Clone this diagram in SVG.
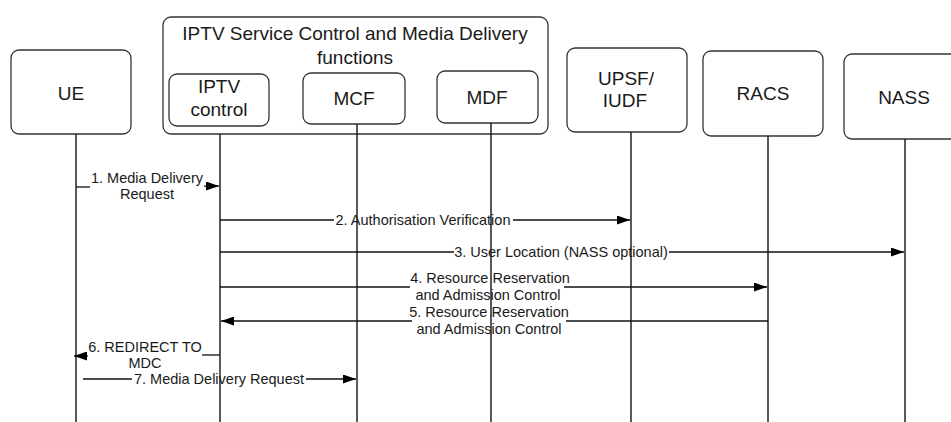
<svg xmlns="http://www.w3.org/2000/svg" width="951" height="422" viewBox="0 0 951 422">
<style>
.box{fill:#fff;stroke:#333;stroke-width:1.3}
.life{stroke:#222;stroke-width:1.5;fill:none}
.msg{stroke:#111;stroke-width:1.3;fill:none}
.big{font-family:"Liberation Sans",Arial,sans-serif;font-size:19px;fill:#1a1a1a;text-anchor:middle}
.sm{font-family:"Liberation Sans",Arial,sans-serif;font-size:14.5px;fill:#1a1a1a;text-anchor:middle}
</style>
<defs>
<marker id="ah" markerUnits="userSpaceOnUse" markerWidth="13" markerHeight="9" refX="13" refY="4.5" orient="auto">
<path d="M0,0 L13,4.5 L0,9 z" fill="#000"/>
</marker>
</defs>

<g id="UE">
<rect class="box" x="11" y="50" width="120" height="84" rx="8"/>
<text class="big" x="71" y="100">UE</text>
</g>
<g id="IPTVSC">
<rect class="box" x="163" y="17" width="385" height="117" rx="8"/>
<text class="big" x="355" y="40">IPTV Service Control and Media Delivery</text>
<text class="big" x="355" y="64">functions</text>
</g>
<g id="IPTVcontrol">
<rect class="box" x="169" y="74" width="100" height="52" rx="8"/>
<text class="big" x="219" y="93">IPTV</text>
<text class="big" x="219" y="116">control</text>
</g>
<g id="MCF">
<rect class="box" x="303" y="73" width="102" height="51" rx="8"/>
<text class="big" x="354" y="104.5">MCF</text>
</g>
<g id="MDF">
<rect class="box" x="437" y="71" width="101" height="52" rx="8"/>
<text class="big" x="487" y="103.5">MDF</text>
</g>
<g id="UPSF">
<rect class="box" x="567" y="48" width="120" height="84" rx="8"/>
<text class="big" x="626" y="84.5">UPSF/</text>
<text class="big" x="625" y="106.5">IUDF</text>
</g>
<g id="RACS">
<rect class="box" x="703" y="51" width="120" height="85" rx="8"/>
<text class="big" x="763" y="99.5">RACS</text>
</g>
<g id="NASS">
<rect class="box" x="844" y="54" width="125" height="85" rx="8"/>
<text class="big" x="904" y="103.5">NASS</text>
</g>

<g id="connectors">
<g id="labels">
<text class="sm" x="147" y="183">1. Media Delivery</text>
<text class="sm" x="147" y="199">Request</text>
<text class="sm" x="423" y="225">2. Authorisation Verification</text>
<text class="sm" x="561" y="257">3. User Location (NASS optional)</text>
<text class="sm" x="490" y="283">4. Resource Reservation</text>
<text class="sm" x="488" y="300">and Admission Control</text>
<text class="sm" x="489" y="317">5. Resource Reservation</text>
<text class="sm" x="489" y="334">and Admission Control</text>
<text class="sm" x="145" y="352">6. REDIRECT TO</text>
<text class="sm" x="145" y="368">MDC</text>
<text class="sm" x="219" y="384">7. Media Delivery Request</text>
</g>
<line class="life" x1="76" y1="134" x2="76" y2="422"/>
<line class="life" x1="220" y1="134" x2="220" y2="422"/>
<line class="life" x1="357" y1="124" x2="357" y2="422"/>
<line class="life" x1="491" y1="123" x2="491" y2="422"/>
<line class="life" x1="631" y1="132" x2="631" y2="422"/>
<line class="life" x1="768" y1="136" x2="768" y2="422"/>
<line class="life" x1="905" y1="139" x2="905" y2="422"/>

<!-- 1 -->
<line class="msg" x1="76" y1="187" x2="90" y2="187"/>
<line class="msg" x1="204" y1="186" x2="219" y2="186" marker-end="url(#ah)"/>
<!-- 2 -->
<line class="msg" x1="220" y1="220" x2="334" y2="220"/>
<line class="msg" x1="513" y1="220" x2="630" y2="220" marker-end="url(#ah)"/>
<!-- 3 -->
<line class="msg" x1="220" y1="252" x2="454" y2="252"/>
<line class="msg" x1="669" y1="252" x2="904" y2="252" marker-end="url(#ah)"/>
<!-- 4 -->
<line class="msg" x1="220" y1="287" x2="410" y2="287"/>
<line class="msg" x1="564" y1="287" x2="767" y2="287" marker-end="url(#ah)"/>
<!-- 5 -->
<line class="msg" x1="768" y1="321" x2="566" y2="321"/>
<line class="msg" x1="412" y1="321" x2="221" y2="321" marker-end="url(#ah)"/>
<!-- 6 -->
<line class="msg" x1="220" y1="355" x2="202" y2="355"/>
<line class="msg" x1="88" y1="356" x2="74" y2="356" marker-end="url(#ah)"/>
<!-- 7 -->
<line class="msg" x1="83" y1="379" x2="132" y2="379"/>
<line class="msg" x1="306" y1="379" x2="356" y2="379" marker-end="url(#ah)"/>
</g>
</svg>
